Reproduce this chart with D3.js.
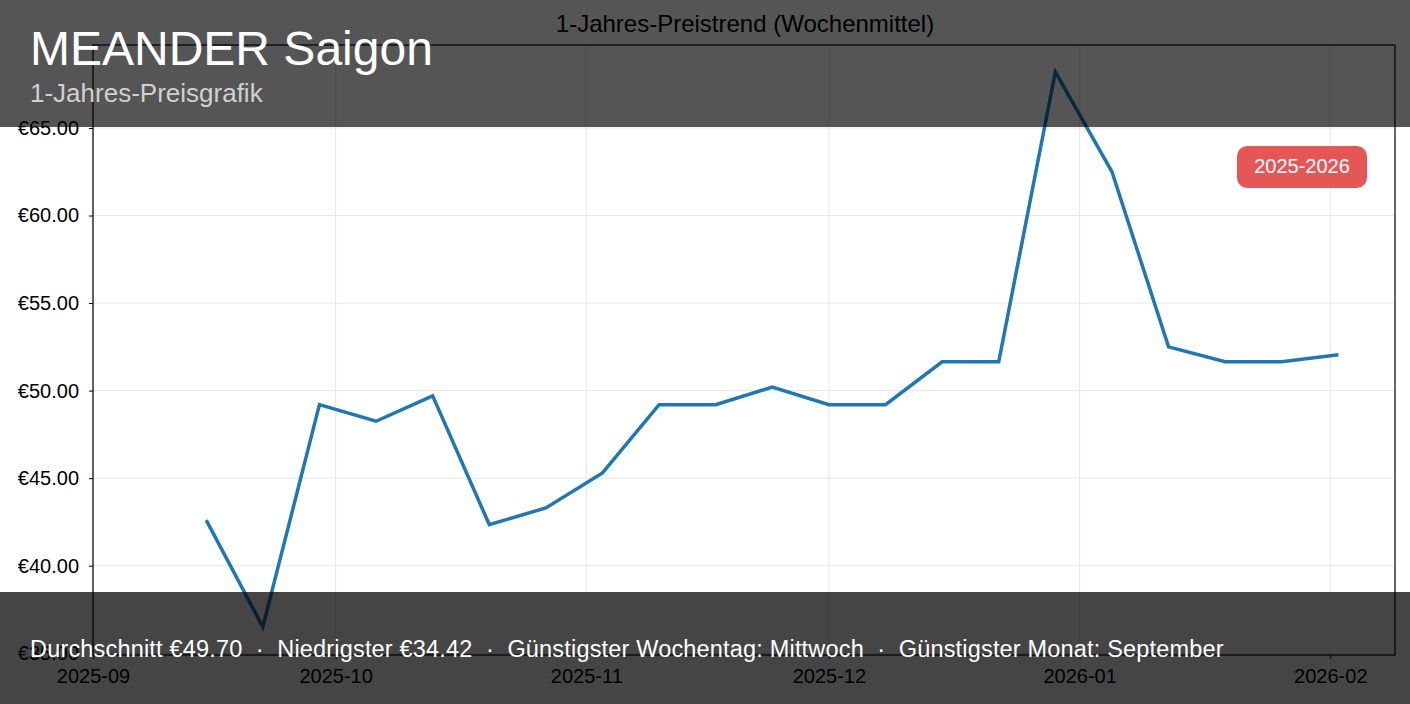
<!DOCTYPE html>
<html><head><meta charset="utf-8">
<script src="https://cdn.jsdelivr.net/npm/d3@7"></script>
<style>body{margin:0;background:#fff;font-family:"Liberation Sans",Arial,sans-serif}</style>
</head><body><svg id="c" width="1410" height="704"></svg>
<script>
const dates = ["2025-09-15","2025-09-22","2025-09-29","2025-10-06","2025-10-13","2025-10-20","2025-10-27","2025-11-03","2025-11-10","2025-11-17","2025-11-24","2025-12-01","2025-12-08","2025-12-15","2025-12-22","2025-12-29","2026-01-05","2026-01-12","2026-01-19","2026-01-26","2026-02-02"];
const prices = [42.6,36.5,49.2,48.25,49.7,42.35,43.3,45.3,49.2,49.2,50.2,49.2,49.2,51.65,51.65,68.2,62.5,52.5,51.65,51.65,52.05];
const xTicks = ["2025-09","2025-10","2025-11","2025-12","2026-01","2026-02"];
const yTicks = [35,40,45,50,55,60,65];
const title = "1-Jahres-Preistrend (Wochenmittel)";
const heading = "MEANDER Saigon", subheading = "1-Jahres-Preisgrafik";
const footer = "Durchschnitt €49.70  ·  Niedrigster €34.42  ·  Günstigster Wochentag: Mittwoch  ·  Günstigster Monat: September";
const badge = "2025-2026";

const svg = d3.select("#c");
const L=93,R=1395,T=45,B=655;
const p = d3.timeParse("%Y-%m-%d"), pm = d3.timeParse("%Y-%m");
const x = d3.scaleTime().domain([p("2025-09-01"), p("2026-02-09")]).range([L,R]);
const y = d3.scaleLinear().domain([34.9,69.74]).range([B,T]);
const g = svg.append("g");
xTicks.forEach(t=>g.append("line").attr("x1",x(pm(t))).attr("x2",x(pm(t))).attr("y1",T).attr("y2",B).attr("stroke","#e6e6e6"));
yTicks.forEach(t=>g.append("line").attr("x1",L).attr("x2",R).attr("y1",y(t)).attr("y2",y(t)).attr("stroke","#e6e6e6"));
g.append("rect").attr("x",L).attr("y",T).attr("width",R-L).attr("height",B-T).attr("fill","none").attr("stroke","#000").attr("stroke-width",1.2);
const xa = svg.append("g").attr("transform",`translate(0,${B})`).call(d3.axisBottom(x).tickValues(xTicks.map(pm)).tickFormat(d3.timeFormat("%Y-%m")).tickSize(4));
const ya = svg.append("g").attr("transform",`translate(${L},0)`).call(d3.axisLeft(y).tickValues(yTicks).tickFormat(d=>"€"+d.toFixed(2)).tickSize(4));
[xa,ya].forEach(a=>{a.select(".domain").remove();a.selectAll("text").attr("font-size",20).attr("fill","#000").attr("font-family","Liberation Sans, Arial");});
xa.selectAll("text").attr("dy","1.05em");
ya.selectAll("text").attr("x",-14);
svg.append("path").datum(dates.map((d,i)=>[p(d),prices[i]])).attr("fill","none").attr("stroke","#1f77b4").attr("stroke-width",3.5)
  .attr("d",d3.line().x(d=>x(d[0])).y(d=>y(d[1])));
svg.append("text").attr("x",745).attr("y",32).attr("text-anchor","middle").attr("font-size",24).text(title);
svg.append("rect").attr("x",1237).attr("y",146).attr("width",130).attr("height",42).attr("rx",10).attr("fill","#e45756");
svg.append("text").attr("x",1302).attr("y",173).attr("text-anchor","middle").attr("font-size",20).attr("fill","#fff").text(badge);
svg.append("rect").attr("x",0).attr("y",0).attr("width",1410).attr("height",127).attr("fill","rgba(0,0,0,0.667)");
svg.append("text").attr("x",30).attr("y",65).attr("font-size",48).attr("fill","#fff").text(heading);
svg.append("text").attr("x",30).attr("y",102).attr("font-size",26).attr("fill","#d0d0d0").text(subheading);
svg.append("rect").attr("x",0).attr("y",592).attr("width",1410).attr("height",112).attr("fill","rgba(0,0,0,0.73)");
svg.append("text").attr("x",30).attr("y",657).attr("font-size",23.5).attr("letter-spacing",0.18).attr("fill","#fff").attr("xml:space","preserve").style("white-space","pre").text(footer);
</script></body></html>
